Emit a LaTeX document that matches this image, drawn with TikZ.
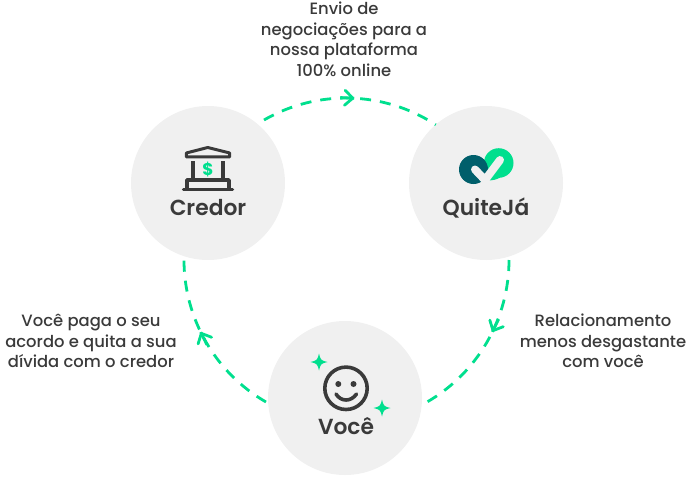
\documentclass[tikz,border=0pt]{standalone}
\usepackage{fontspec}
\setmainfont{Poppins}
\newfontfamily\lblfont{Poppins Medium}
\newfontfamily\namefont{Poppins SemiBold}
\usetikzlibrary{arrows.meta,decorations.markings}
\definecolor{discgray}{HTML}{F0F0F0}
\definecolor{inkgray}{HTML}{3A3A3A}
\definecolor{mintgreen}{HTML}{00DF8E}
\definecolor{logoteal}{HTML}{005F6B}
\tikzset{
	disc/.style={circle,fill=discgray,minimum size=154pt,inner sep=0pt},
	title/.style={text=inkgray,font=\namefont\fontsize{21.8}{24}\selectfont,anchor=base},
	lbl/.style={text=inkgray,font=\lblfont\fontsize{16.4}{20.5}\selectfont,align=center,inner sep=0pt},
	flow/.style={mintgreen,line width=2.8pt,dash pattern=on 11pt off 9pt,postaction={decorate}},
	midarrow/.style={decoration={markings,mark=at position #1 with {
		\draw [solid,line width=2.8pt] (-14pt,0pt) -- (0pt,0pt);
		\arrow{Straight Barb[length=8pt,width=15pt,line width=2.8pt,round]}}}},
	ink/.style={inkgray,line width=3.5pt},
	sparkle/.pic={\fill[mintgreen] (0,-8.5) .. controls (1.5,-2) and (2,-1.5) .. (8.5,0) .. controls (2,1.5) and (1.5,2) .. (0,8.5) .. controls (-1.5,2) and (-2,1.5) .. (-8.5,0) .. controls (-2,-1.5) and (-1.5,-2) .. (0,-8.5) -- cycle;}
}
\begin{document}
\begin{tikzpicture}[x=1pt,y=-1pt]
	\useasboundingbox (0,0) rectangle (690,477);
	\node [disc] (credor) at (208,183) {};
	\node [disc] (quiteja) at (486,183) {};
	\node [disc] (voce) at (345,398) {};
	\coordinate (credorout) at (264,120);
	\coordinate (quitejaout) at (509,260);
	\coordinate (voceout) at (266,402);
	% arcs
	\draw [flow,midarrow=0.52] (credorout) arc [start angle=120,end angle=56.8,radius=164pt];
	\draw [flow,midarrow=0.433] (quitejaout) arc [start angle=0,end angle=-60,radius=164pt];
	\draw [flow,midarrow=0.565] (voceout) arc [start angle=-120,end angle=-180,radius=164pt];
	% bank
	\draw [ink,line width=3pt,line join=round] (186.3,156.8) -- (186.3,153) -- (207.7,147.5) -- (229.7,153) -- (229.7,156.8) -- cycle;
	\draw [ink] (193,161) -- (193,178) (223,161) -- (223,178);
	\draw [ink,line join=round] (187,188) -- (187,180) -- (229,180) -- (229,188);
	\draw [ink,line cap=round] (183.5,189.5) -- (232.5,189.5);
	\node [text=mintgreen,font=\fontspec{Poppins}\bfseries\fontsize{17}{17}\selectfont,inner sep=0pt] (dollar) at (208,169.5) {\$};
	\node [title] (credorname) at (208,215) {Credor};
	% logo
	\fill [mintgreen] (498.7,163) circle [radius=14.8pt];
	\fill [mintgreen] (500,177.7) .. controls (496,179.5) and (493,180.5) .. (489.5,180.5) -- (495,165) -- cycle;
	\fill [logoteal] (473.5,169.5) circle [radius=14.5pt];
	\draw [discgray,line width=8pt,line cap=round,line join=miter] (475,169.5) -- (485,180) -- (500,160);
	\node [title] (quitejaname) at (486,215) {QuiteJá};
	% face
	\draw [inkgray,line width=3.6pt] (346,388.3) circle [radius=21.2pt];
	\fill [inkgray] (338.3,384) circle [radius=3pt];
	\fill [inkgray] (353.5,384) circle [radius=3pt];
	\draw [inkgray,line width=3.6pt,line cap=round] (336,394) .. controls (341,402) and (351,402) .. (356.5,394);
	\pic at (319,362) {sparkle};
	\pic at (382,408) {sparkle};
	\node [title] (vocename) at (346,434.5) {Você};
	% labels
	\node [lbl] (toplbl) at (344,39.5) {Envio de\\negociações para a\\nossa plataforma\\100\% online};
	\node [lbl] (leftlbl) at (91,341) {Você paga o seu\\acordo e quita a sua\\dívida com o credor};
	\node [lbl] (rightlbl) at (603,341) {Relacionamento\\menos desgastante\\com você};
\end{tikzpicture}
\end{document}
